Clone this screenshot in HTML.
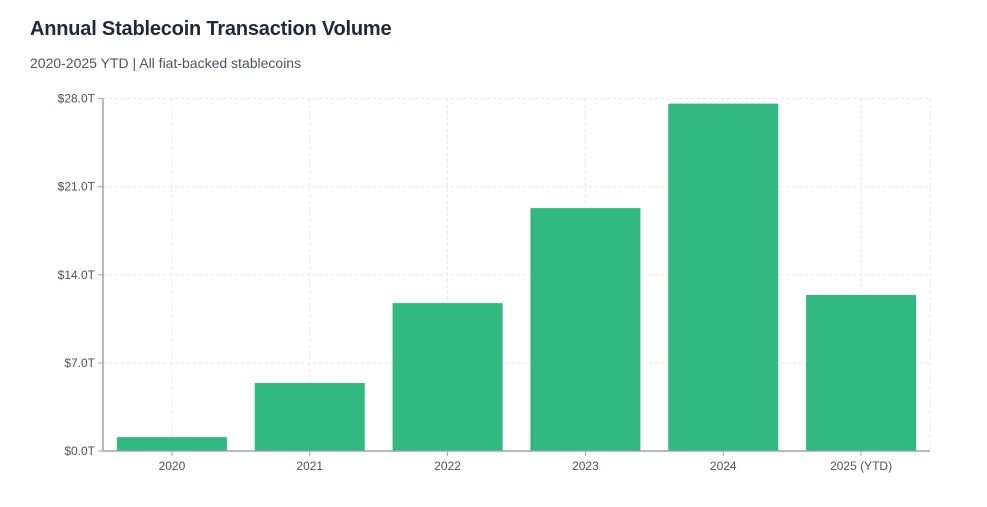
<!DOCTYPE html>
<html><head><meta charset="utf-8"><style>
body{margin:0;background:#fff;width:987px;height:507px;overflow:hidden;font-family:"Liberation Sans",sans-serif}
h1{position:absolute;left:30px;top:18px;margin:0;font-size:20px;font-weight:bold;color:#1f2937;letter-spacing:-0.2px}
.sub{position:absolute;left:30px;top:55px;font-size:14px;color:#4b5563}
svg{position:absolute;left:0;top:0}
</style></head><body>
<h1>Annual Stablecoin Transaction Volume</h1>
<div class="sub">2020-2025 YTD | All fiat-backed stablecoins</div>
<svg id="chart" width="987" height="507"></svg>
<script>
const categories=["2020","2021","2022","2023","2024","2025 (YTD)"];
const volumes=[1.1,5.4,11.75,19.3,27.6,12.4];
const yTicks=[0,7,14,21,28];
const tickLabels=["$0.0T","$7.0T","$14.0T","$21.0T","$28.0T"];
const svg=document.getElementById('chart');
const NS="http://www.w3.org/2000/svg";
const L=103,R=930,T=98.6,B=451,YMAX=28;
const y=v=>B-(v/YMAX)*(B-T);
const bw=(R-L)/categories.length;
const x=i=>L+bw*(i+0.5);
function mk(tag,at){const e=document.createElementNS(NS,tag);for(const k in at)e.setAttribute(k,at[k]);svg.appendChild(e);return e;}
yTicks.forEach((t,i)=>{
 const g=mk('line',{x1:L,x2:R,y1:y(t),y2:y(t),stroke:'#e5e7eb','stroke-dasharray':'3,3'});
 
 
 const tk=mk('line',{x1:L-5,x2:L,y1:y(t),y2:y(t),stroke:'#9ca3af'});
 
 
 const tx=mk('text',{x:L-8,y:y(t)+4,'text-anchor':'end','font-size':12,fill:'#4b5563'});
 tx.textContent=tickLabels[i];
 
 
});
categories.forEach((c,i)=>{
 const g=mk('line',{x1:x(i),x2:x(i),y1:T,y2:B,stroke:'#e5e7eb','stroke-dasharray':'3,3'});
 
 
});
const rg=mk('line',{x1:R,x2:R,y1:T,y2:B,stroke:'#e5e7eb','stroke-dasharray':'3,3'});


categories.forEach((c,i)=>{
 const b=mk('rect',{x:x(i)-55,y:y(volumes[i]),width:110,height:B-y(volumes[i]),fill:'#31b981'});
 
 
 const tk=mk('line',{x1:x(i),x2:x(i),y1:B,y2:B+5,stroke:'#9ca3af'});
 
 
 const t=mk('text',{x:x(i),y:B+19,'text-anchor':'middle','font-size':12,fill:'#4b5563'});
 t.textContent=c;
 
 
});
const ya=mk('line',{x1:L,x2:L,y1:T,y2:B,stroke:'#9ca3af','stroke-width':1.5});


const xa=mk('line',{x1:L,x2:R,y1:B,y2:B,stroke:'#9ca3af','stroke-width':1.5});


</script>
</body></html>
